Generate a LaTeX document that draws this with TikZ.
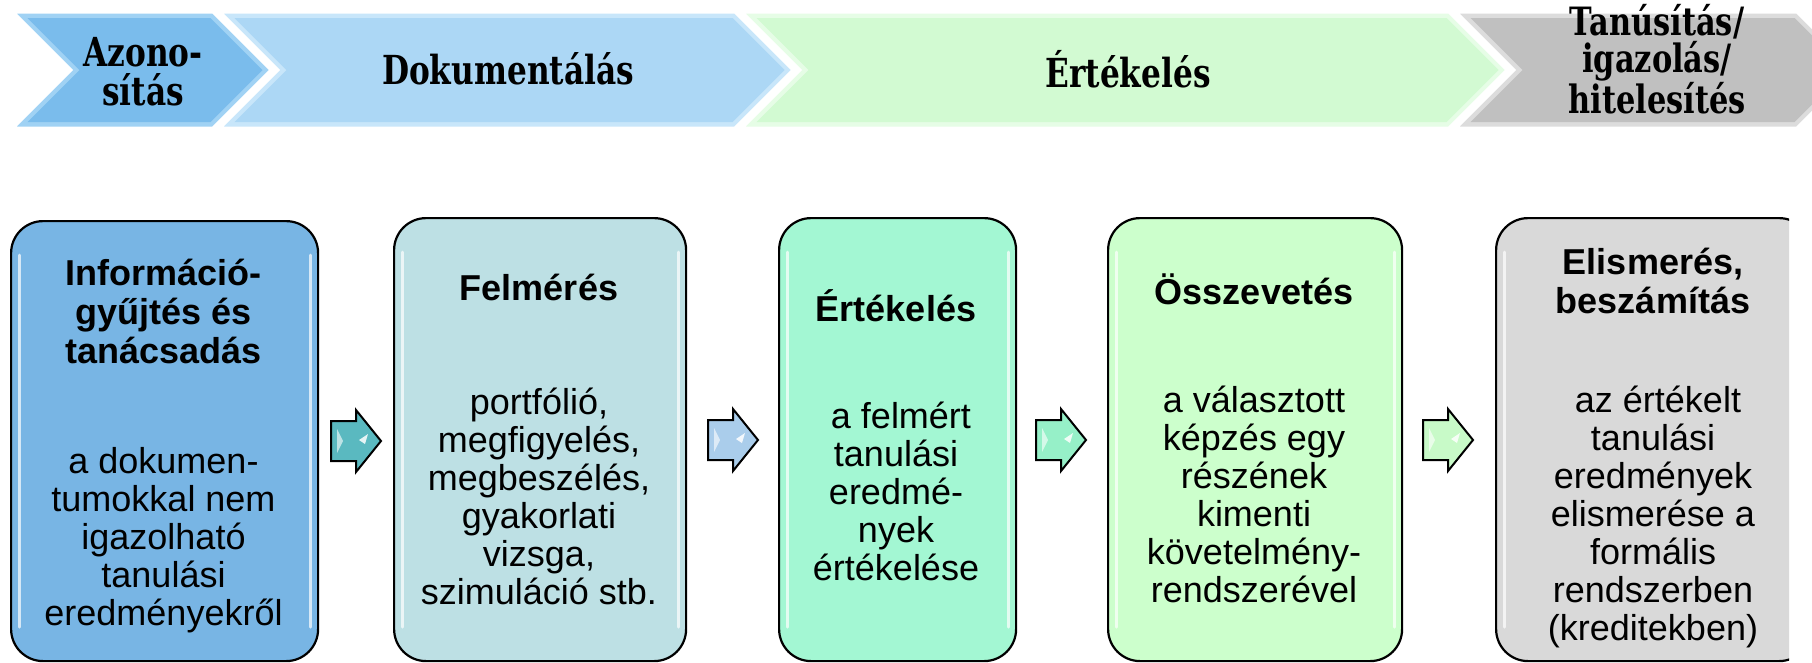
\documentclass[tikz,border=0pt]{standalone}
\usepackage{fontspec}
\setmainfont{Liberation Sans}
\newfontfamily\chevfont{DejaVu Serif}[FakeStretch=0.78]
\definecolor{cha}{RGB}{122,188,236}
\definecolor{chal}{RGB}{160,210,244}
\definecolor{chb}{RGB}{172,215,245}
\definecolor{chbl}{RGB}{200,230,250}
\definecolor{chc}{RGB}{210,250,210}
\definecolor{chcl}{RGB}{230,253,230}
\definecolor{chd}{RGB}{192,192,192}
\definecolor{chdl}{RGB}{220,220,220}
\definecolor{bxa}{RGB}{120,181,228}
\definecolor{bxb}{RGB}{189,224,228}
\definecolor{bxc}{RGB}{163,247,211}
\definecolor{bxd}{RGB}{204,255,204}
\definecolor{bxe}{RGB}{217,217,217}
\definecolor{ara}{RGB}{90,185,192}
\definecolor{arb}{RGB}{170,205,235}
\definecolor{arc}{RGB}{150,240,200}
\definecolor{ard}{RGB}{200,250,200}
\tikzset{
  pics/blkarrow/.style={code={
    \draw[line width=2pt, line join=miter, fill=#1] (-25,-20) -- (0,-20) -- (0,-31) -- (25,0) -- (0,31) -- (0,20) -- (-25,20) -- cycle;
    \fill[white, opacity=0.6] (-19,-12) -- (-13,0) -- (-19,12) -- cycle;
    \fill[white, opacity=0.85] (3,-1) -- (12,-7) -- (9,3) -- cycle;
  }}
}
\begin{document}
\begin{tikzpicture}[x=1pt,y=-1pt,
  boxshape/.style={draw=black, line width=2.2pt, rounded corners=32pt, anchor=north west, inner sep=0pt},
  hd/.style={align=center, font=\fontsize{36}{39}\selectfont\bfseries, inner sep=0pt},
  bd/.style={align=center, font=\fontsize{36}{38}\selectfont, inner sep=0pt},
  chevtext/.style={align=center, font=\chevfont\bfseries\fontsize{40}{39}\selectfont, inner sep=0pt},
  gloss/.style={white, opacity=0.7, line width=3pt, line cap=round},
  chevout/.style={draw=white, line width=3pt, line join=miter},
]
\useasboundingbox (0,0) rectangle (1812,662);

% ---- top chevrons ----
\path[fill=chal, chevout] (13,12) -- (213,12) -- (271,70) -- (213,128) -- (13,128) -- (71,70) -- cycle;
\fill[cha] (27.5,18) -- (210.5,18) -- (262.5,70) -- (210.5,122) -- (27.5,122) -- (79.5,70) -- cycle;

\path[fill=chbl, chevout] (220,12) -- (735,12) -- (793,70) -- (735,128) -- (220,128) -- (278,70) -- cycle;
\fill[chb] (234.5,18) -- (732.5,18) -- (784.5,70) -- (732.5,122) -- (234.5,122) -- (286.5,70) -- cycle;

\path[fill=chcl, chevout] (742,12) -- (1449,12) -- (1507,70) -- (1449,128) -- (742,128) -- (800,70) -- cycle;
\fill[chc] (756.5,18) -- (1446.5,18) -- (1498.5,70) -- (1446.5,122) -- (756.5,122) -- (808.5,70) -- cycle;

\begin{scope}
\clip (0,0) rectangle (1812,662);
\path[fill=chdl, chevout] (1456,12) -- (1797,12) -- (1855,70) -- (1797,128) -- (1456,128) -- (1514,70) -- cycle;
\fill[chd] (1470.5,18) -- (1794.5,18) -- (1846.5,70) -- (1794.5,122) -- (1470.5,122) -- (1522.5,70) -- cycle;
\end{scope}

\node[chevtext] (t1) at (143,72) {Azono-\\sítás};
\node[chevtext] (t2) at (508,69) {Dokumentálás};
\node[chevtext] (t3) at (1128,69) {Értékelés};
\node[chevtext, font=\chevfont\bfseries\fontsize{39}{37.5}\selectfont] (t4) at (1657,59) {Tanúsítás/\\igazolás/\\hitelesítés};

% ---- boxes ----
\node[boxshape, fill=bxa, minimum width=307pt, minimum height=440pt] (b1) at (10,220) {};
\node[boxshape, fill=bxb, minimum width=292pt, minimum height=443pt] (b2) at (393,217) {};
\node[boxshape, fill=bxc, minimum width=237pt, minimum height=443pt] (b3) at (778,217) {};
\node[boxshape, fill=bxd, minimum width=294pt, minimum height=443pt] (b4) at (1107,217) {};
\begin{scope}
\clip (0,0) rectangle (1789,662);
\node[boxshape, fill=bxe, minimum width=315pt, minimum height=443pt] (b5) at (1495,217) {};
\end{scope}

\foreach \b in {b1,b2,b3,b4}{
  \draw[gloss] ([xshift=9pt,yshift=-35pt]\b.north west) -- ([xshift=9pt,yshift=35pt]\b.south west);
  \draw[gloss] ([xshift=-9pt,yshift=-35pt]\b.north east) -- ([xshift=-9pt,yshift=35pt]\b.south east);
}
\draw[gloss] ([xshift=9pt,yshift=-35pt]b5.north west) -- ([xshift=9pt,yshift=35pt]b5.south west);

% ---- block arrows ----
\pic at (356,441) {blkarrow=ara};
\pic at (733,440) {blkarrow=arb};
\pic at (1061,440) {blkarrow=arc};
\pic at (1448,440) {blkarrow=ard};

% ---- texts ----
\node[hd] (h1) at (163.5,311) {Információ-\\gyűjtés és\\tanácsadás};
\node[bd] (p1) at (163.5,540) {a dokumen-\\tumokkal nem\\igazolható\\tanulási\\eredményekről};

\node[hd] (h2) at (539,287) {Felmérés};
\node[bd] (p2) at (539,496) {portfólió,\\megfigyelés,\\megbeszélés,\\gyakorlati\\vizsga,\\szimuláció stb.};

\node[hd] (h3) at (896,306) {Értékelés};
\node[bd] (p3) at (896,491) {\ a felmért\\tanulási\\eredmé-\\nyek\\értékelése};

\node[hd] (h4) at (1254,289) {Összevetés};
\node[bd] (p4) at (1254,494) {a választott\\képzés egy\\részének\\kimenti\\követelmény-\\rendszerével};

\node[hd] (h5) at (1653,281) {Elismerés,\\beszámítás};
\node[bd] (p5) at (1653,517) {\ az értékelt\\tanulási\\eredmények\\elismerése a\\formális\\rendszerben\\(kreditekben)};
\end{tikzpicture}
\end{document}
